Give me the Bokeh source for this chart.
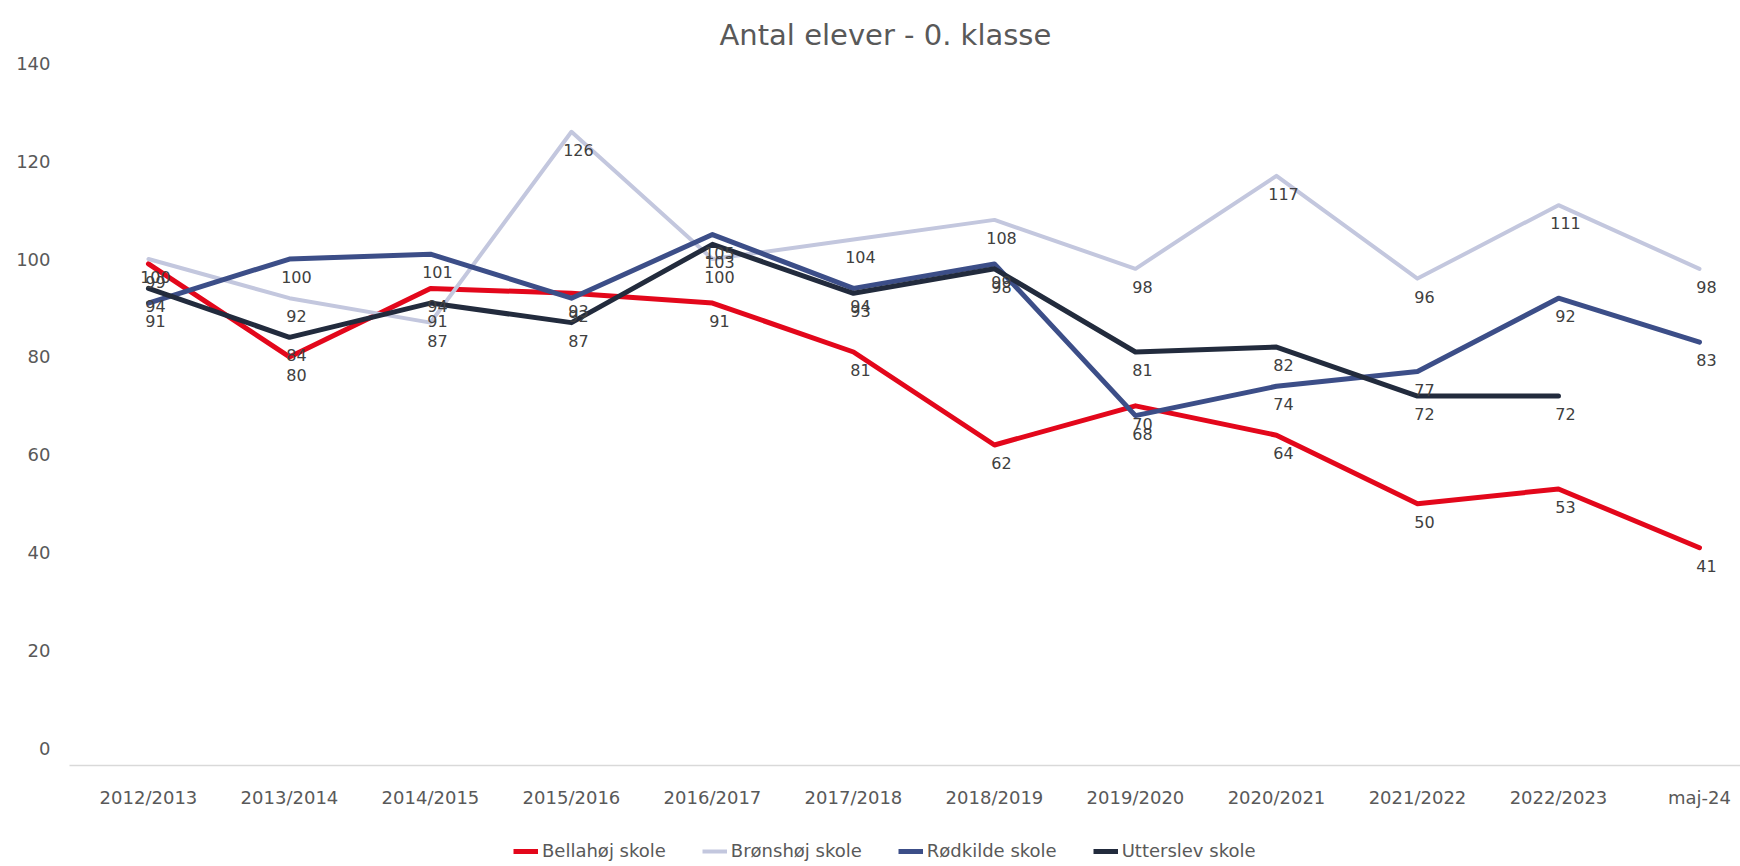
from bokeh.plotting import figure
from bokeh.layouts import column
from bokeh.models import Range1d, FixedTicker, Legend, LegendItem, ColumnDataSource
from bokeh.embed import file_html
from bokeh.resources import INLINE
from bokeh.core.properties import value

# ---- data ----
categories = ["2012/2013", "2013/2014", "2014/2015", "2015/2016", "2016/2017", "2017/2018",
              "2018/2019", "2019/2020", "2020/2021", "2021/2022", "2022/2023", "maj-24"]
bellahoj = [99, 80, 94, 93, 91, 81, 62, 70, 64, 50, 53, 41]
bronshoj = [100, 92, 87, 126, 100, 104, 108, 98, 117, 96, 111, 98]
rodkilde = [91, 100, 101, 92, 105, 94, 99, 68, 74, 77, 92, 83]
utterslev = [94, 84, 91, 87, 103, 93, 98, 81, 82, 72, 72, None]
series_names = ["Bellahøj skole", "Brønshøj skole", "Rødkilde skole", "Utterslev skole"]
series_values = [bellahoj, bronshoj, rodkilde, utterslev]
series_colors = ["#E3071B", "#C3C7DE", "#3C4E88", "#222B3D"]
series_widths = [5, 4, 5, 5]
y_ticks = [0, 20, 40, 60, 80, 100, 120, 140]
title_text = "Antal elever - 0. klasse"

FONT = "DejaVu Sans"
GREY = "#595959"

p = figure(width=1740, height=810, output_backend="svg", toolbar_location=None,
           x_range=Range1d(-0.56, 11.291), y_range=Range1d(-3.5, 142.0),
           min_border_left=69, min_border_right=0, min_border_top=53, min_border_bottom=44,
           background_fill_color="white", border_fill_color="white", outline_line_color=None)

p.title.text = title_text
p.title.align = "left"
p.title.offset = 650
p.title.text_font = FONT
p.title.text_font_size = "29px"
p.title.text_font_style = "normal"
p.title.text_color = GREY
p.title.standoff = 4

p.xgrid.visible = False
p.ygrid.visible = False

xa = p.xaxis[0]
xa.ticker = FixedTicker(ticks=list(range(len(categories))))
xa.major_label_overrides = {i: c for i, c in enumerate(categories)}
xa.axis_line_color = "#D9D9D9"
xa.axis_line_width = 1.5
xa.major_tick_line_color = None
xa.minor_tick_line_color = None
xa.major_tick_out = 0
xa.major_tick_in = 0
xa.major_label_standoff = 21
xa.major_label_text_font = FONT
xa.major_label_text_font_size = "18px"
xa.major_label_text_color = GREY

ya = p.yaxis[0]
ya.ticker = FixedTicker(ticks=y_ticks)
ya.axis_line_color = None
ya.major_tick_line_color = None
ya.minor_tick_line_color = None
ya.major_tick_out = 0
ya.major_tick_in = 0
ya.major_label_standoff = 19
ya.major_label_text_font = FONT
ya.major_label_text_font_size = "18px"
ya.major_label_text_color = GREY

label_sources = []
for name, vals, col, w in zip(series_names, series_values, series_colors, series_widths):
    xs = [i for i, v in enumerate(vals) if v is not None]
    ys = [v for v in vals if v is not None]
    src = ColumnDataSource(dict(x=xs, y=ys, t=[str(v) for v in ys]))
    p.line("x", "y", source=src, line_color=col, line_width=w, line_join="round", line_cap="round")
    label_sources.append(src)

for src in label_sources:
    p.text("x", "y", text="t", source=src, text_font=value(FONT), text_font_size="16px",
           text_color="#404040", text_align="center", text_baseline="middle",
           x_offset=7, y_offset=18)

# legend strip below the chart (legend keys only, no data marks)
leg = figure(width=1740, height=56, output_backend="svg", toolbar_location=None,
             x_range=Range1d(0, 1), y_range=Range1d(0, 1), x_axis_type=None, y_axis_type=None,
             min_border=0, outline_line_color=None,
             background_fill_color="white", border_fill_color="white")
leg.xgrid.visible = False
leg.ygrid.visible = False
items = []
for name, col, w in zip(series_names, series_colors, series_widths):
    r = leg.line(x=[float("nan"), float("nan")], y=[float("nan"), float("nan")],
                 line_color=col, line_width=w)
    items.append(LegendItem(label=name, renderers=[r]))
legend = Legend(items=items, orientation="horizontal", location=(444, 5),
                label_text_font=FONT, label_text_font_size="18px", label_text_color=GREY,
                glyph_width=25, glyph_height=18, label_height=18, label_standoff=4, spacing=36,
                padding=0, margin=0, border_line_alpha=0, background_fill_alpha=0)
leg.add_layout(legend, "center")

layout = column(p, leg, spacing=0)
open("out.html", "w").write(file_html(layout, INLINE))
